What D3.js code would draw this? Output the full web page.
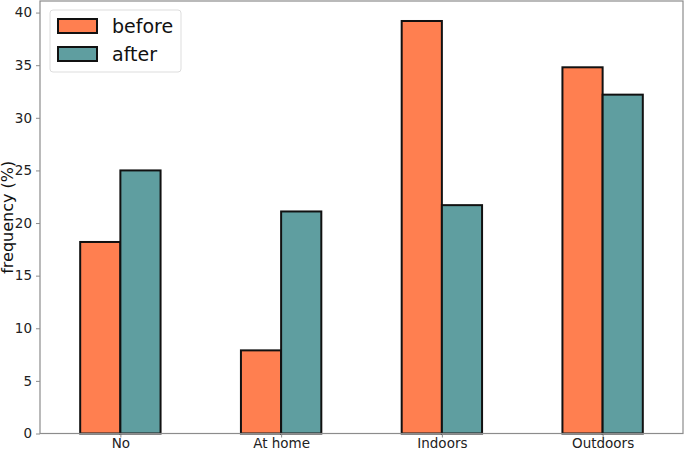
<!DOCTYPE html>
<html>
<head>
<meta charset="utf-8">
<script src="https://cdn.jsdelivr.net/npm/d3@7"></script>
<style>
  body { margin: 0; background: #fff; }
  text { font-family: "DejaVu Sans", sans-serif; }
</style>
</head>
<body>
<div id="chart"></div>
<script>
// grouped bars, before vs after, per location
const categories = ["No", "At home", "Indoors", "Outdoors"];
const before = [18.2, 7.9, 39.2, 34.8];
const after = [25.0, 21.1, 21.7, 32.2];
const yTicks = [0, 5, 10, 15, 20, 25, 30, 35, 40];

const COL_BEFORE = "#FF7F50";
const COL_AFTER = "#5F9EA0";
const SPINE = "#8c8c8c";

const W = 685, H = 449;
const m = { left: 40, right: 2, top: 1, bottom: 15.5 };

const svg = d3.select("#chart").append("svg")
  .attr("width", W).attr("height", H);

const x = d3.scaleLinear().domain([-0.5, 3.5]).range([m.left, W - m.right]);
const y = d3.scaleLinear().domain([0, 41.1]).range([H - m.bottom, m.top]);
const bw = 0.25;

const series = [
  { name: "before", vals: before, color: COL_BEFORE, off: -bw / 2 },
  { name: "after", vals: after, color: COL_AFTER, off: bw / 2 }
];

series.forEach(s => {
  svg.append("g").selectAll("rect")
    .data(s.vals)
    .enter().append("rect")
    .attr("x", (d, i) => x(i + s.off - bw / 2))
    .attr("width", x(bw) - x(0))
    .attr("y", d => y(d))
    .attr("height", d => y(0) - y(d))
    .attr("fill", s.color)
    .attr("stroke", "#111")
    .attr("stroke-width", 2);
});

// frame
svg.append("rect")
  .attr("x", m.left).attr("y", m.top)
  .attr("width", W - m.right - m.left).attr("height", H - m.bottom - m.top)
  .attr("fill", "none").attr("stroke", SPINE).attr("stroke-width", 1.2);

// y axis
const yAxis = svg.append("g")
  .attr("transform", `translate(${m.left},0)`)
  .call(d3.axisLeft(y).tickValues(yTicks).tickSize(4).tickPadding(4));
yAxis.select(".domain").remove();
yAxis.selectAll("line").attr("stroke", SPINE);
yAxis.selectAll("text").attr("font-size", 13.5).attr("fill", "#222")
  .style("font-family", "DejaVu Sans");

// x axis
const xAxis = svg.append("g")
  .attr("transform", `translate(0,${H - m.bottom})`)
  .call(d3.axisBottom(x).tickValues(d3.range(categories.length))
    .tickFormat(i => categories[i]).tickSize(4).tickPadding(1));
xAxis.select(".domain").remove();
xAxis.selectAll("line").attr("stroke", SPINE);
xAxis.selectAll("text").attr("font-size", 13.5).attr("fill", "#222")
  .style("font-family", "DejaVu Sans");

// y label
svg.append("text")
  .attr("transform", `translate(8.5,${(m.top + H - m.bottom) / 2}) rotate(-90)`)
  .attr("text-anchor", "middle")
  .attr("dominant-baseline", "middle")
  .attr("font-size", 16).attr("fill", "#111")
  .text("frequency (%)");

// legend
const lg = svg.append("g").attr("transform", "translate(50,10)");
lg.append("rect")
  .attr("width", 131).attr("height", 62).attr("rx", 3)
  .attr("fill", "#fff").attr("fill-opacity", 0.8)
  .attr("stroke", "#ddd").attr("stroke-width", 1);
series.forEach((s, i) => {
  const row = lg.append("g").attr("transform", `translate(8,${9 + i * 28})`);
  row.append("rect")
    .attr("width", 39).attr("height", 14)
    .attr("fill", s.color).attr("stroke", "#111").attr("stroke-width", 2);
  row.append("text")
    .attr("x", 54).attr("y", 7)
    .attr("dominant-baseline", "central")
    .attr("font-size", 19).attr("fill", "#111")
    .text(s.name);
});
</script>
</body>
</html>
